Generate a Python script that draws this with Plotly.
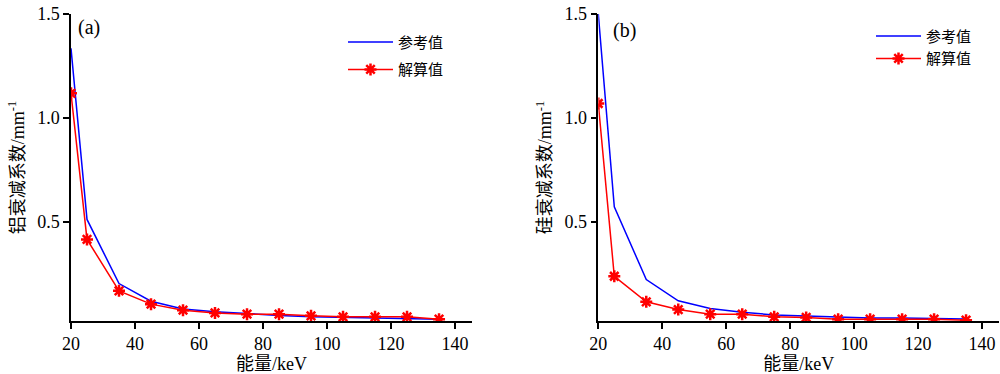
import plotly.graph_objects as go

energy = [20, 25, 35, 45, 55, 65, 75, 85, 95, 105, 115, 125, 135]
al_ref = [1.335, 0.513, 0.205, 0.120, 0.083, 0.069, 0.061, 0.051, 0.045, 0.042, 0.038, 0.038, 0.034]
al_calc = [1.119, 0.417, 0.170, 0.106, 0.077, 0.064, 0.058, 0.058, 0.050, 0.045, 0.045, 0.045, 0.034]
si_ref = [1.500, 0.574, 0.224, 0.122, 0.085, 0.067, 0.054, 0.050, 0.045, 0.040, 0.040, 0.037, 0.035]
si_calc = [1.070, 0.240, 0.117, 0.080, 0.058, 0.058, 0.045, 0.042, 0.034, 0.034, 0.034, 0.034, 0.029]

x_ticks = [20, 40, 60, 80, 100, 120, 140]
y_ticks = [0.5, 1.0, 1.5]
y_ticktext = ["0.5", "1.0", "1.5"]
names = ["参考值", "解算值"]
panel_labels = ["(a)", "(b)"]
y_titles = ["铝衰减系数/mm<sup>-1</sup>", "硅衰减系数/mm<sup>-1</sup>"]
x_title = "能量/keV"

FONT = "Liberation Serif, Tinos, Times New Roman, DejaVu Serif, Noto Sans CJK SC, serif"
BLUE = "#0000ff"
RED = "#ff0000"

fig = go.Figure()

panels = [(al_ref, al_calc, "x", "y", "legend"), (si_ref, si_calc, "x2", "y2", "legend2")]
for ref, calc, xa, ya, lg in panels:
    fig.add_trace(go.Scatter(x=energy, y=ref, mode="lines", name=names[0],
                             line=dict(color=BLUE, width=1.5), xaxis=xa, yaxis=ya,
                             legend=lg, legendgroup=lg + "a"))
    fig.add_trace(go.Scatter(x=energy, y=calc, mode="lines+markers", name=names[1],
                             line=dict(color=RED, width=1.5),
                             marker=dict(symbol="asterisk-open", size=10, color=RED,
                                         line=dict(color=RED, width=2.5)),
                             xaxis=xa, yaxis=ya, legend=lg, legendgroup=lg + "b"))

axis_common = dict(showline=True, linecolor="black", linewidth=1.5, ticks="outside",
                   ticklen=6, tickwidth=1.5, tickcolor="black", showgrid=False,
                   zeroline=False, tickfont=dict(family=FONT, size=18, color="black"),
                   mirror=False, automargin=False)

PW = 928.0
doms = [[0.0, (472 - 71) / PW], [(598.3 - 71) / PW, 1.0]]
for i in range(2):
    xa = "xaxis" if i == 0 else "xaxis2"
    ya = "yaxis" if i == 0 else "yaxis2"
    xid = "x" if i == 0 else "x2"
    yid = "y" if i == 0 else "y2"
    fig.update_layout({
        xa: dict(axis_common, domain=doms[i], range=[20, 145.3], tickvals=x_ticks,
                 anchor=yid,
                 title=dict(text=x_title, font=dict(family=FONT, size=18, color="black"),
                            standoff=8)),
        ya: dict(axis_common, domain=[0, 1], range=[0.025, 1.5], tickvals=y_ticks,
                 ticktext=y_ticktext, anchor=xid,
                 title=dict(text=y_titles[i], font=dict(family=FONT, size=18, color="black"),
                            standoff=8)),
    })

fig.add_annotation(text=panel_labels[0], xref="x", yref="paper", x=21.5, y=(321 - 27) / 307,
                   showarrow=False, xanchor="left", yanchor="middle",
                   font=dict(family=FONT, size=20, color="black"))
fig.add_annotation(text=panel_labels[1], xref="x2", yref="paper", x=24.0, y=(321 - 30) / 307,
                   showarrow=False, xanchor="left", yanchor="middle",
                   font=dict(family=FONT, size=20, color="black"))

legend_common = dict(font=dict(family=FONT, size=15, color="black"), bgcolor="rgba(0,0,0,0)",
                     xanchor="left", yanchor="top", tracegroupgap=5, itemwidth=45)
fig.update_layout(
    legend=dict(legend_common, x=(343 - 71) / PW, y=(321 - 25.7) / 307),
    legend2=dict(legend_common, x=(871 - 71) / PW, y=(321 - 19.7) / 307, tracegroupgap=0),
    width=1000, height=374,
    margin=dict(l=71, r=1, t=14, b=53),
    plot_bgcolor="white", paper_bgcolor="white",
)

fig.write_html("out.html", config={"displayModeBar": False},
               post_script="document.body.style.margin='0';")
